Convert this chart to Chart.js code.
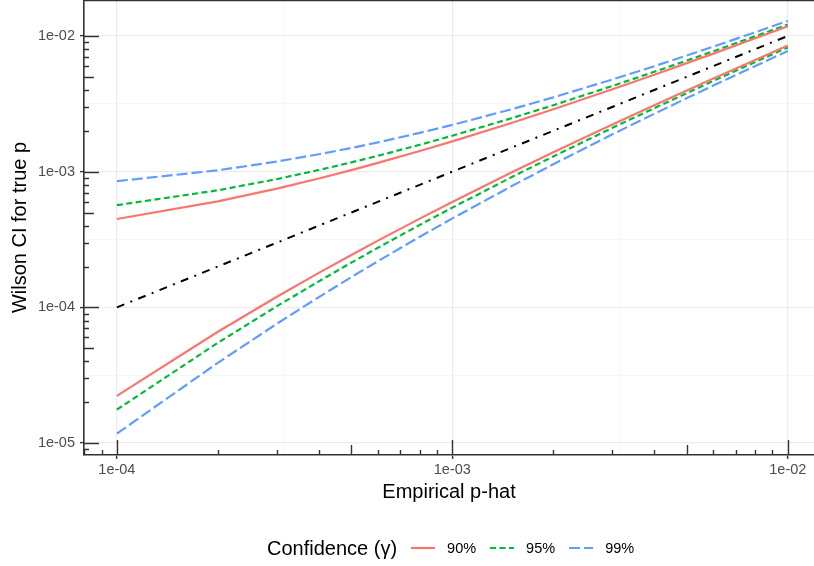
<!DOCTYPE html>
<html>
<head>
<meta charset="utf-8">
<script src="https://cdn.jsdelivr.net/npm/chart.js@4"></script>
<style>
  body { margin: 0; background: #fff; font-family: "Liberation Sans", Arial, sans-serif; }
  #wrap { position: relative; width: 814px; height: 566px; }
  #legenda { position: absolute; left: 267px; top: 535px; height: 26px; display: flex; align-items: center; color: #000; }
  #legenda .titulo { font-size: 20px; margin-right: 14px; }
  #legenda .txt { font-size: 14.5px; margin-left: 12px; margin-right: 14px; }
  #legenda svg { display: block; }
</style>
</head>
<body>
<div id="wrap">
  <canvas id="myChart" width="814" height="566"></canvas>
  <div id="legenda">
    <span class="titulo">Confidence (γ)</span>
    <svg width="24" height="6"><line x1="0" y1="3" x2="24" y2="3" stroke="#F8766D" stroke-width="2.2"/></svg>
    <span class="txt">90%</span>
    <svg width="24" height="6"><line x1="0" y1="3" x2="24" y2="3" stroke="#00BA38" stroke-width="2.2" stroke-dasharray="6 3.5"/></svg>
    <span class="txt">95%</span>
    <svg width="24" height="6"><line x1="0" y1="3" x2="24" y2="3" stroke="#619CFF" stroke-width="2.2" stroke-dasharray="11 4"/></svg>
    <span class="txt">99%</span>
  </div>
</div>
<script>
// Dados - p-hat observado e limites do intervalo de Wilson
const pHat = [1e-4, 2e-4, 3e-4, 4e-4, 5e-4, 6e-4, 8e-4, 1e-3, 1.5e-3, 2e-3, 3e-3, 4e-3, 5e-3, 6e-3, 8e-3, 1e-2];

const upper90 = [4.481e-4, 6.042e-4, 7.504e-4, 8.907e-4, 1.0268e-3, 1.1599e-3, 1.4192e-3, 1.6720e-3, 2.2855e-3, 2.8817e-3, 4.0439e-3, 5.1809e-3, 6.3016e-3, 7.4108e-3, 9.6043e-3, 1.17743e-2];
const lower90 = [2.230e-5, 6.618e-5, 1.1989e-4, 1.7958e-4, 2.4339e-4, 3.1028e-4, 4.5081e-4, 5.9790e-4, 9.8420e-4, 1.38767e-3, 2.22496e-3, 3.08742e-3, 3.96614e-3, 4.85648e-3, 6.66190e-3, 8.49075e-3];
const upper95 = [5.663e-4, 7.290e-4, 8.8175e-4, 1.02814e-3, 1.17004e-3, 1.30854e-3, 1.57796e-3, 1.83996e-3, 2.47360e-3, 3.08737e-3, 4.27943e-3, 5.44194e-3, 6.58529e-3, 7.71490e-3, 9.94484e-3, 1.214702e-2];
const lower95 = [1.765e-5, 5.484e-5, 1.0203e-4, 1.5556e-4, 2.1358e-4, 2.7501e-4, 4.0542e-4, 5.4328e-4, 9.0925e-4, 1.29510e-3, 2.10227e-3, 2.93899e-3, 3.79488e-3, 4.66450e-3, 6.43302e-3, 8.22930e-3];
const upper99 = [8.512e-4, 1.02374e-3, 1.18687e-3, 1.3435e-3, 1.4953e-3, 1.64333e-3, 1.93072e-3, 2.20941e-3, 2.88044e-3, 3.52705e-3, 4.77582e-3, 5.98709e-3, 7.17383e-3, 8.34290e-3, 1.064318e-2, 1.290746e-2];
const lower99 = [1.1745e-5, 3.905e-5, 7.578e-5, 1.1902e-4, 1.6709e-4, 2.1893e-4, 3.3127e-4, 4.5232e-4, 7.8062e-4, 1.13335e-3, 1.88325e-3, 2.67066e-3, 3.48259e-3, 4.31220e-3, 6.00927e-3, 7.74234e-3];

// linha de referencia y = x
const refX = [1e-4, 1e-2];
const refY = [1e-4, 1e-2];

// ticks dos eixos
const xTicks = [1e-4, 1e-3, 1e-2];
const xTickLabels = ['1e-04', '1e-03', '1e-02'];
const yTicks = [1e-5, 1e-4, 1e-3, 1e-2];
const yTickLabels = ['1e-05', '1e-04', '1e-03', '1e-02'];

function pontos(xs, ys) {
    return xs.map((x, i) => ({ x: x, y: ys[i] }));
}

// grade principal (decadas) + grade menor no meio da decada
function gradeTicks(majors) {
    const lista = [];
    for (let i = 0; i < majors.length; i++) {
        lista.push({ value: majors[i] });
        if (i < majors.length - 1) lista.push({ value: Math.sqrt(majors[i] * majors[i + 1]) });
    }
    return lista;
}

function ehMajor(v, majors) {
    return majors.some(m => Math.abs(v / m - 1) < 1e-6);
}

function rotulo(v, majors, labels) {
    for (let i = 0; i < majors.length; i++) {
        if (Math.abs(v / majors[i] - 1) < 1e-6) return labels[i];
    }
    return '';
}

// tracinhos logaritmicos (estilo annotation_logticks) + borda de cima
const logTicks = {
    id: 'logTicks',
    afterDatasetsDraw(chart) {
        const c = chart.ctx;
        const area = chart.chartArea;
        const xs = chart.scales.x;
        const ys = chart.scales.y;
        c.save();
        c.strokeStyle = '#333333';
        c.lineWidth = 1.4;
        c.beginPath();
        for (let e = -6; e <= -1; e++) {
            for (let m = 1; m <= 9; m++) {
                const v = m * Math.pow(10, e);
                const len = m === 1 ? 15 : (m === 5 ? 10 : 5);
                if (v >= xs.min && v <= xs.max) {
                    const px = Math.round(xs.getPixelForValue(v)) + 0.5;
                    c.moveTo(px, area.bottom);
                    c.lineTo(px, area.bottom - len);
                }
                if (v >= ys.min && v <= ys.max) {
                    const py = Math.round(ys.getPixelForValue(v)) + 0.5;
                    c.moveTo(area.left, py);
                    c.lineTo(area.left + len, py);
                }
            }
        }
        c.stroke();
        c.beginPath();
        c.lineWidth = 1.2;
        c.moveTo(area.left, area.top + 0.6);
        c.lineTo(area.right, area.top + 0.6);
        c.stroke();
        c.restore();
    }
};

const ctx = document.getElementById('myChart');
new Chart(ctx, {
    type: 'line',
    data: {
        datasets: [
            { label: 'ref', data: pontos(refX, refY), borderColor: '#000000', borderWidth: 2, borderDash: [8, 6.5, 2, 6.5] },
            { label: '90% sup', data: pontos(pHat, upper90), borderColor: '#F8766D', borderWidth: 2.2 },
            { label: '90% inf', data: pontos(pHat, lower90), borderColor: '#F8766D', borderWidth: 2.2 },
            { label: '95% sup', data: pontos(pHat, upper95), borderColor: '#00BA38', borderWidth: 2.2, borderDash: [6, 3.5] },
            { label: '95% inf', data: pontos(pHat, lower95), borderColor: '#00BA38', borderWidth: 2.2, borderDash: [6, 3.5] },
            { label: '99% sup', data: pontos(pHat, upper99), borderColor: '#619CFF', borderWidth: 2.2, borderDash: [11, 4] },
            { label: '99% inf', data: pontos(pHat, lower99), borderColor: '#619CFF', borderWidth: 2.2, borderDash: [11, 4] }
        ]
    },
    options: {
        responsive: false,
        animation: false,
        events: [],
        elements: { point: { radius: 0 }, line: { tension: 0, fill: false, borderCapStyle: 'butt' } },
        layout: { padding: { left: 0, right: 0, top: 0, bottom: 46 } },
        plugins: { legend: { display: false }, tooltip: { enabled: false } },
        scales: {
            x: {
                type: 'logarithmic',
                min: 7.98e-5,
                max: 1.197e-2,
                afterBuildTicks: s => { s.ticks = gradeTicks(xTicks); },
                afterFit: s => { s.height = 65; s.paddingLeft = 0; s.paddingRight = 0; },
                ticks: {
                    autoSkip: false,
                    maxRotation: 0,
                    padding: 2,
                    color: '#4d4d4d',
                    font: { family: '"Liberation Sans", Arial, sans-serif', size: 14.5 },
                    callback: v => rotulo(v, xTicks, xTickLabels)
                },
                grid: {
                    color: c => ehMajor(c.tick.value, xTicks) ? '#ebebeb' : '#f2f2f2',
                    lineWidth: c => ehMajor(c.tick.value, xTicks) ? 1.2 : 0.7,
                    tickColor: c => ehMajor(c.tick.value, xTicks) ? '#333333' : 'rgba(0,0,0,0)',
                    tickLength: 4,
                    tickWidth: 1.4
                },
                border: { display: true, color: '#333333', width: 1.6 },
                title: {
                    display: true,
                    text: 'Empirical p-hat',
                    color: '#000',
                    font: { family: '"Liberation Sans", Arial, sans-serif', size: 20 },
                    padding: { top: 0, bottom: 16 }
                }
            },
            y: {
                type: 'logarithmic',
                min: 8.17e-6,
                max: 1.84e-2,
                afterBuildTicks: s => { s.ticks = gradeTicks(yTicks); },
                afterFit: s => { s.width = 84; s.paddingTop = 0; s.paddingBottom = 0; },
                ticks: {
                    autoSkip: false,
                    padding: 5,
                    color: '#4d4d4d',
                    font: { family: '"Liberation Sans", Arial, sans-serif', size: 14.5 },
                    callback: v => rotulo(v, yTicks, yTickLabels)
                },
                grid: {
                    color: c => ehMajor(c.tick.value, yTicks) ? '#ebebeb' : '#f2f2f2',
                    lineWidth: c => ehMajor(c.tick.value, yTicks) ? 1.2 : 0.7,
                    tickColor: c => ehMajor(c.tick.value, yTicks) ? '#333333' : 'rgba(0,0,0,0)',
                    tickLength: 4,
                    tickWidth: 1.4
                },
                border: { display: true, color: '#333333', width: 1.6 },
                title: {
                    display: true,
                    text: 'Wilson CI for true p',
                    color: '#000',
                    font: { family: '"Liberation Sans", Arial, sans-serif', size: 20 },
                    padding: { top: 8, bottom: 0 }
                }
            }
        }
    },
    plugins: [logTicks]
});
</script>
</body>
</html>
